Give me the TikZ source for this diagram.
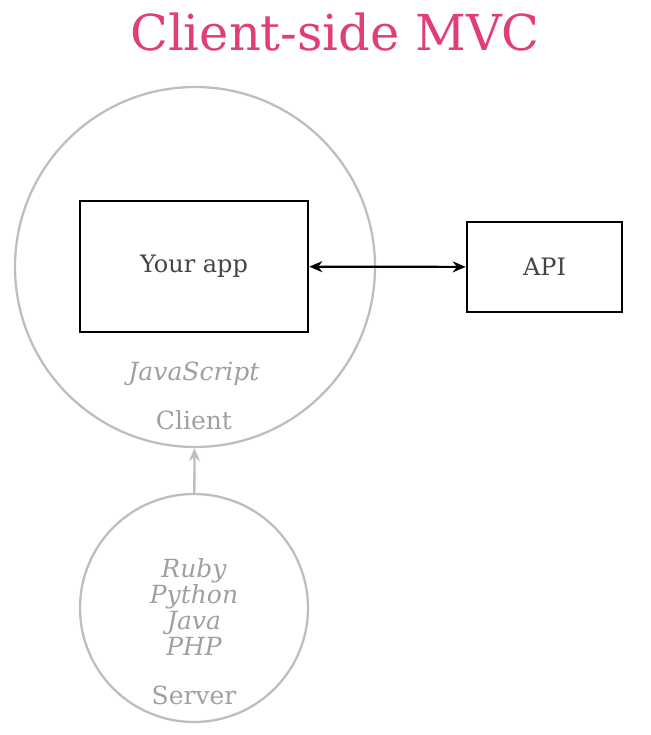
\documentclass[tikz,border=0pt]{standalone}
\usepackage{fontspec}
\setmainfont{DejaVu Serif}
\usetikzlibrary{arrows.meta}
\definecolor{titlepink}{RGB}{224,62,122}
\definecolor{ringgray}{RGB}{190,190,190}
\definecolor{textgray}{RGB}{160,160,160}
\definecolor{boxtext}{RGB}{68,68,68}

\begin{document}
\begin{tikzpicture}[x=1pt,y=-1pt,>={Stealth[length=13pt,width=11pt]},
  ring/.style={draw=ringgray,line width=2.3pt,circle,inner sep=0pt},
  appbox/.style={draw=black,line width=2.6pt,inner sep=0pt,text=boxtext,font=\fontsize{24}{28}\selectfont},
  graytext/.style={text=textgray,font=\fontsize{25}{28}\selectfont},
  langtext/.style={text=textgray,font=\fontsize{25}{26.3}\itshape,align=center}]
  \useasboundingbox (0,0) rectangle (650,735);
  \node[text=titlepink,font=\fontsize{49.5}{55}\selectfont] (title) at (335,32) {Client-side MVC};
  % client side
  \node[ring,minimum size=360pt] (client) at (195,267) {};
  \node[appbox,minimum width=228pt,minimum height=131pt] (app) at (194,266.5) {Your app};
  \node[appbox,minimum width=155pt,minimum height=90pt] (api) at (544.5,267) {API};
  \draw[<->,line width=2.2pt] (app) -- (api);
  \node[graytext,font=\fontsize{25}{28}\itshape] (js) at (194,374) {JavaScript};
  \node[graytext] (clientlabel) at (194,420) {Client};
  % server side
  \node[ring,minimum size=228pt] (server) at (194,608) {};
  \node[langtext] (langs) at (194,607) {Ruby\\Python\\Java\\PHP};
  \node[graytext] (serverlabel) at (194,695) {Server};
  \draw[->,draw=ringgray,line width=2.3pt] (server) -- (client);
\end{tikzpicture}
\end{document}
